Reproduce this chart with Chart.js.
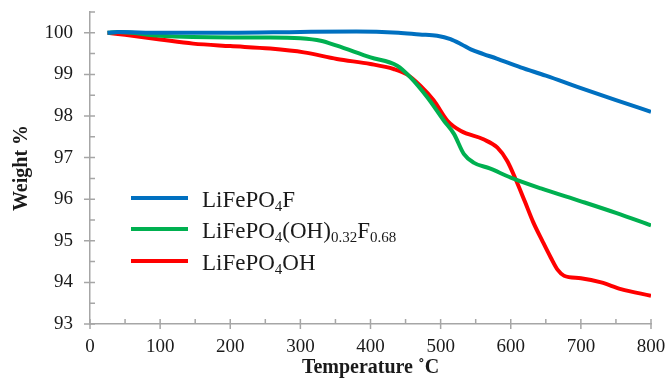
<!DOCTYPE html>
<html>
<head>
<meta charset="utf-8">
<script src="https://cdn.jsdelivr.net/npm/chart.js@4.4.1/dist/chart.umd.min.js"></script>
<style>
  body { margin: 0; background: #fff; }
  #wrap { position: relative; width: 669px; height: 386px; }
  #legend { position: absolute; left: 131px; top: 182px; font-family: "Liberation Serif", serif; font-size: 23px; color: #1a1a1a; }
  #legend .row { display: flex; align-items: center; height: 31.5px; }
  #legend .swatch { width: 57px; height: 4px; margin-right: 14px; }
  #legend .txt { position: relative; top: 2px; white-space: nowrap; }
  #legend sub { font-size: 15px; vertical-align: -4px; line-height: 0; }
</style>
</head>
<body>
<div id="wrap">
  <canvas id="tgaChart" width="669" height="386"></canvas>
  <div id="legend">
    <div class="row"><span class="swatch" style="background:#0070c0"></span><span class="txt">LiFePO<sub>4</sub>F</span></div>
    <div class="row"><span class="swatch" style="background:#00b050"></span><span class="txt">LiFePO<sub>4</sub>(OH)<sub>0.32</sub>F<sub>0.68</sub></span></div>
    <div class="row"><span class="swatch" style="background:#ff0000"></span><span class="txt">LiFePO<sub>4</sub>OH</span></div>
  </div>
</div>
<script>
// LiFePO4F
const fTemp   = [25, 40, 100, 200, 300, 380, 440, 470, 495, 514, 530, 543, 561, 580, 614, 650, 700, 750, 800];
const fWeight = [100.0, 100.02, 100.0, 100.0, 100.02, 100.03, 100.0, 99.96, 99.93, 99.85, 99.72, 99.6, 99.49, 99.38, 99.17, 98.97, 98.67, 98.38, 98.1];

// LiFePO4(OH)0.32F0.68
const mixTemp   = [25, 40, 100, 200, 257, 300, 329, 352, 400, 438, 457, 481, 505, 519, 533, 547, 570, 600, 643, 700, 750, 800];
const mixWeight = [100.0, 100.02, 99.93, 99.89, 99.89, 99.87, 99.81, 99.69, 99.41, 99.21, 98.93, 98.45, 97.88, 97.57, 97.09, 96.88, 96.74, 96.52, 96.26, 95.95, 95.67, 95.37];

// LiFePO4OH
const ohTemp   = [25, 50, 100, 147, 200, 257, 305, 352, 400, 433, 452, 471, 490, 510, 529, 561, 581, 595, 607, 620, 632, 645, 657, 667, 676, 700, 729, 757, 800];
const ohWeight = [100.0, 99.95, 99.84, 99.74, 99.68, 99.62, 99.53, 99.37, 99.25, 99.13, 99.0, 98.73, 98.38, 97.88, 97.64, 97.44, 97.24, 96.92, 96.48, 95.95, 95.45, 95.0, 94.6, 94.3, 94.16, 94.1, 94.0, 93.84, 93.68];

const xTicks = [0, 100, 200, 300, 400, 500, 600, 700, 800];
const yTicks = [93, 94, 95, 96, 97, 98, 99, 100];

const pts = (xs, ys) => xs.map((x, i) => ({ x: x, y: ys[i] }));
const axisColor = '#a6a6a6';
const serif = '"Liberation Serif", "Times New Roman", serif';

// tick marks: major ones cross the axis, minor ones point inward
const tickMarks = {
  id: 'tickMarks',
  afterDraw(chart) {
    const ctx = chart.ctx;
    const xs = chart.scales.x, ys = chart.scales.y;
    const yAxis = xs.getPixelForValue(0);
    const xAxis = ys.getPixelForValue(93);
    ctx.save();
    ctx.strokeStyle = axisColor;
    ctx.lineWidth = 1.5;
    ctx.beginPath();
    for (let v = 0; v <= 800; v += 50) {
      const px = xs.getPixelForValue(v);
      const major = v % 100 === 0;
      ctx.moveTo(px, xAxis - 5);
      ctx.lineTo(px, major ? xAxis + 5 : xAxis);
    }
    for (let v = 93; v <= 100.5; v += 0.5) {
      const py = ys.getPixelForValue(v);
      const major = Number.isInteger(v);
      ctx.moveTo(major ? yAxis - 6 : yAxis, py);
      ctx.lineTo(yAxis + 5, py);
    }
    ctx.stroke();
    ctx.restore();
  }
};

function lineSet(label, data, color) {
  return {
    label: label,
    data: data,
    borderColor: color,
    borderWidth: 4,
    pointRadius: 0,
    fill: false,
    cubicInterpolationMode: 'monotone'
  };
}

new Chart(document.getElementById('tgaChart').getContext('2d'), {
  type: 'line',
  data: {
    datasets: [
      lineSet('LiFePO4F', pts(fTemp, fWeight), '#0070c0'),
      lineSet('LiFePO4(OH)0.32F0.68', pts(mixTemp, mixWeight), '#00b050'),
      lineSet('LiFePO4OH', pts(ohTemp, ohWeight), '#ff0000')
    ]
  },
  options: {
    responsive: false,
    animation: false,
    layout: { padding: { top: 12, right: 18, left: 0, bottom: 0 } },
    plugins: {
      legend: { display: false },
      tooltip: { enabled: false }
    },
    scales: {
      x: {
        type: 'linear',
        min: 0,
        max: 800,
        afterBuildTicks: scale => { scale.ticks = xTicks.map(v => ({ value: v })); },
        afterFit: scale => { scale.height = 62; scale.paddingLeft = 0; scale.paddingRight = 0; },
        grid: { display: false, drawTicks: false },
        border: { color: axisColor, width: 1.5 },
        ticks: { color: '#1a1a1a', padding: 12, maxRotation: 0, font: { family: serif, size: 19 } },
        title: {
          display: true,
          text: 'Temperature ˚C',
          color: '#1a1a1a',
          padding: { top: 0, bottom: 6 },
          font: { family: serif, size: 20, weight: 'bold' }
        }
      },
      y: {
        min: 93,
        max: 100.5,
        afterBuildTicks: scale => { scale.ticks = yTicks.map(v => ({ value: v })); },
        afterFit: scale => { scale.width = 90; scale.paddingTop = 0; scale.paddingBottom = 0; },
        grid: { display: false, drawTicks: false },
        border: { color: axisColor, width: 1.5 },
        ticks: { color: '#1a1a1a', padding: 17, font: { family: serif, size: 19 } },
        title: {
          display: true,
          text: 'Weight %',
          color: '#1a1a1a',
          padding: { top: 10, bottom: 0 },
          font: { family: serif, size: 20, weight: 'bold' }
        }
      }
    }
  },
  plugins: [tickMarks]
});
</script>
</body>
</html>
